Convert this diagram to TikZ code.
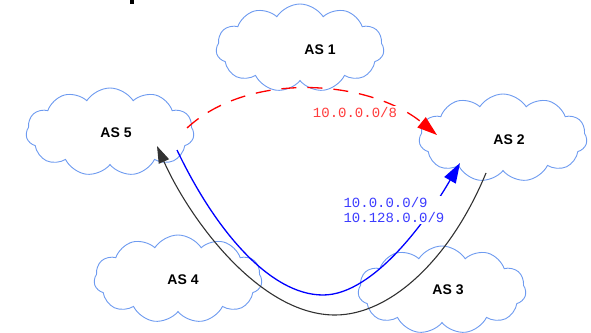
\documentclass[tikz,border=0pt]{standalone}
\usepackage{fontspec}
\setmainfont{Liberation Sans}
\newfontfamily\monofont{Liberation Mono}
\usetikzlibrary{shapes.symbols,arrows.meta}
\definecolor{cloudblue}{RGB}{110,155,240}
\definecolor{lblred}{RGB}{255,60,60}
\definecolor{lblblue}{RGB}{60,60,255}
\definecolor{darkline}{RGB}{50,50,50}
\tikzset{
  ascloud/.style={cloud, cloud puffs=11, cloud puff arc=115, draw=cloudblue, fill=white, line width=0.9pt,
    minimum width=#1, minimum height=88pt, inner sep=0pt},
  ascloud/.default=168pt,
  astext/.style={font=\bfseries\fontsize{14}{16}\selectfont},
  route/.style={line width=1.3pt},
  pfxlabel/.style={font=\monofont\fontsize{14}{15}\selectfont, fill=white, inner sep=1pt, align=left}
}
\begin{document}
\begin{tikzpicture}[x=1pt,y=-1pt]
\useasboundingbox (0,0) rectangle (591,332);
\fill (130,0) rectangle (134,4);
% clouds
\node[ascloud] (as1) at (300,48) {};
\node[ascloud] (as5) at (110,132) {};
\node[ascloud] (as2) at (503,138) {};
\node[ascloud] (as4) at (178,279) {};
\node[ascloud] (as3) at (442,290) {};
\node[astext] (t1) at (320,50) {AS 1};
\node[astext] (t5) at (116,133) {AS 5};
\node[astext] (t2) at (509,140) {AS 2};
\node[astext] (t4) at (183,280) {AS 4};
\node[astext] (t3) at (448,290) {AS 3};
% endpoints
\coordinate (r0) at (187,128);
\coordinate (r1) at (437,135);
\coordinate (b0) at (177,150);
\coordinate (bm) at (323,295);
\coordinate (b1) at (460,163);
\coordinate (k0) at (486,173);
\coordinate (km) at (335,315);
\coordinate (k1) at (157,146);
% red dashed route
\draw[route, red, dash pattern=on 15pt off 11pt, -{Triangle[length=20pt,width=13pt]}]
  (r0) .. controls (250,70) and (370,80) .. (r1);
% blue route
\draw[route, blue, -{Triangle[length=20pt,width=13pt]}]
  (b0) .. controls (215,230) and (270,295) .. (bm)
       .. controls (375,295) and (430,215) .. (b1);
% black route
\draw[route, darkline, line width=1.1pt, -{Triangle[length=17pt,width=11pt]}]
  (k0) .. controls (450,260) and (390,315) .. (km)
       .. controls (260,315) and (190,220) .. (k1);
% labels
\node[pfxlabel, text=lblred] (lr) at (355,112) {10.0.0.0/8};
\node[pfxlabel, text=lblblue] (lb) at (394,210) {10.0.0.0/9\\10.128.0.0/9};
\end{tikzpicture}
\end{document}
